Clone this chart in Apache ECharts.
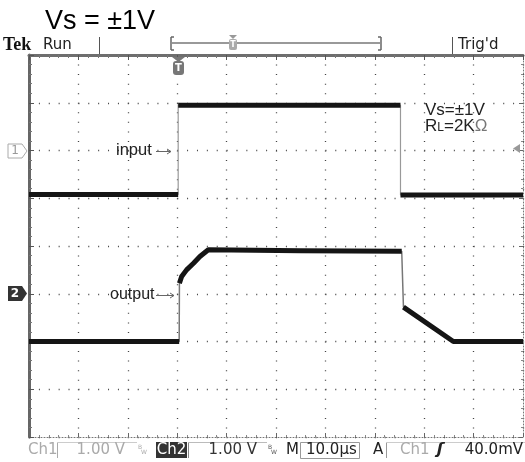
<!DOCTYPE html>
<html><head><meta charset="utf-8">
<script src="https://cdn.jsdelivr.net/npm/echarts@6/dist/echarts.min.js"></script>
<style>html,body{margin:0;padding:0;background:#fff}#c{width:525px;height:462px}</style>
</head><body><div id="c"></div>
<script>
// ---- data (time in µs, voltage in V) ----
const inTime  = [0, 30.2, 30.2, 75.2, 75.2, 100];
const inVolts = [-0.92, -0.92, 0.95, 0.95, -0.93, -0.93];
const outTime  = [0, 30.4, 30.45, 30.9, 31.9, 33.3, 34.6, 36.3, 55, 75.45, 75.8, 85.9, 100];
const outVolts = [-1.0, -1.0, 0.22, 0.36, 0.50, 0.64, 0.78, 0.92, 0.90, 0.89, -0.28, -1.0, -1.0];
const ch1VoltsPerDiv = 1.0, ch2VoltsPerDiv = 1.0;
const ch1OffsetDiv = 2, ch2OffsetDiv = -1;
const timeTicks = [0, 10, 20, 30, 40, 50, 60, 70, 80, 90, 100];
const divTicks = [-4, -3, -2, -1, 0, 1, 2, 3, 4];

function toScreen(times, volts, vpd, off) { return times.map((t, i) => [t, volts[i] / vpd + off]); }
function thickParts(pts) {
  const out = [];
  for (let i = 0; i < pts.length; i++) {
    if (i > 0) {
      const dx = pts[i][0] - pts[i-1][0];
      const dy = Math.abs(pts[i][1] - pts[i-1][1]);
      if (dx <= 0 || dy / dx > 1) out.push([pts[i][0], null]);
    }
    out.push(pts[i]);
  }
  return out;
}
const inPts = toScreen(inTime, inVolts, ch1VoltsPerDiv, ch1OffsetDiv);
const outPts = toScreen(outTime, outVolts, ch2VoltsPerDiv, ch2OffsetDiv);

const chart = echarts.init(document.getElementById('c'), null, {renderer: 'canvas'});
const SANS = '"Liberation Sans", Arial, sans-serif';
const TEK = '"DejaVu Sans", sans-serif';
function txt(x, y, text, font, fill, align, valign, extra) {
  return Object.assign({type: 'text', x: x, y: y, z: 100,
    style: Object.assign({text: text, font: font, fill: fill,
      align: align || 'left', textAlign: align || 'left',
      verticalAlign: valign || 'middle', textVerticalAlign: valign || 'middle'}, extra || {})});
}
function ln(x1, y1, x2, y2, color, w) {
  return {type: 'line', z: 100, shape: {x1, y1, x2, y2}, style: {stroke: color, lineWidth: w || 1}};
}
function arrow(x1, x2, y) {
  return [ln(x1, y, x2, y, '#666', 1),
    {type: 'polyline', z: 100, shape: {points: [[x2 - 4, y - 2.5], [x2, y], [x2 - 4, y + 2.5]]}, style: {stroke: '#666', lineWidth: 1, fill: null}}];
}
const graphics = [
  txt(45, 8, 'Vs = ±1V', '27px ' + SANS, '#000', 'left', 'top'),
  txt(3, 45, 'Tek', 'bold 18px "Liberation Serif", serif', '#111'),
  txt(43, 45, 'Run', '15px ' + TEK, '#222'),
  ln(99.5, 37, 99.5, 54, '#555', 1),
  ln(452.5, 37, 452.5, 54, '#555', 1),
  txt(458, 45, "Trig'd", '15px ' + TEK, '#222'),
  // trigger position bar
  ln(171, 37, 171, 50, '#666', 1.5), ln(171, 50, 174, 50, '#666', 1.5), ln(171, 37, 174, 37, '#666', 1.5),
  ln(172, 43, 380, 43, '#999', 2),
  ln(381, 37, 381, 50, '#666', 1.5), ln(378, 50, 381, 50, '#666', 1.5), ln(378, 37, 381, 37, '#666', 1.5),
  {type: 'polygon', z: 100, shape: {points: [[229, 35], [237, 35], [233, 39]]}, style: {fill: '#999'}},
  {type: 'rect', z: 100, shape: {x: 229, y: 39, width: 8, height: 11, r: 2}, style: {fill: '#aaa'}},
  txt(233, 44.5, 'T', 'bold 8px ' + TEK, '#fff', 'center'),
  // trigger marker under top border
  {type: 'polygon', z: 100, shape: {points: [[172, 57], [185, 57], [178.5, 62]]}, style: {fill: '#777'}},
  {type: 'rect', z: 100, shape: {x: 173, y: 61, width: 11, height: 14, r: 3}, style: {fill: '#777'}},
  txt(178.5, 68, 'T', 'bold 10px ' + TEK, '#fff', 'center'),
  // channel markers
  {type: 'polygon', z: 100, shape: {points: [[8, 144], [22, 144], [27, 151], [22, 158], [8, 158]]}, style: {fill: '#fff', stroke: '#aaa', lineWidth: 1}},
  txt(15, 151, '1', '12px ' + TEK, '#999', 'center'),
  {type: 'polygon', z: 100, shape: {points: [[8, 286], [22, 286], [27, 293.5], [22, 301], [8, 301]]}, style: {fill: '#333'}},
  txt(15, 293.5, '2', 'bold 12px ' + TEK, '#fff', 'center'),
  {type: 'polygon', z: 100, shape: {points: [[513, 148.5], [520, 144], [520, 153]]}, style: {fill: '#999'}},
  // annotations
  txt(116, 150.5, 'input', '16.5px ' + SANS, '#222'),
  ...arrow(156, 171, 151.5),
  txt(110, 294.5, 'output', '16px ' + SANS, '#222'),
  ...arrow(156, 174, 295.5),
  txt(425, 110.5, 'Vs=±1V', '17px ' + SANS, '#222'),
  txt(425, 126, '{a|R}{b|L}{a|=2K}{c|Ω}', '17px ' + SANS, '#222', 'left', 'middle', {rich: {a: {font: '17px ' + SANS, fill: '#222'}, b: {font: '12px ' + SANS, fill: '#222', padding: [4, 0, 0, 0]}, c: {font: '17px ' + SANS, fill: '#777'}}}),
  // status bar
  txt(28, 450, 'Ch1', '15px ' + TEK, '#aaa'),
  ln(57.5, 442, 57.5, 458, '#aaa', 1), ln(57, 442.5, 137, 442.5, '#ccc', 1),
  txt(125, 450, '1.00 V', '15px ' + TEK, '#aaa', 'right'),
  txt(138, 447, 'B', '6px ' + TEK, '#aaa'), txt(141, 452, 'W', '6px ' + TEK, '#aaa'),
  {type: 'rect', z: 100, shape: {x: 156, y: 442, width: 31, height: 16}, style: {fill: '#333'}},
  txt(171.5, 450, 'Ch2', '15px ' + TEK, '#fff', 'center'),
  ln(188.5, 442, 188.5, 458, '#888', 1), ln(188, 442.5, 267, 442.5, '#bbb', 1),
  txt(257, 450, '1.00 V', '15px ' + TEK, '#333', 'right'),
  txt(268, 447, 'B', '6px ' + TEK, '#555'), txt(271, 452, 'W', '6px ' + TEK, '#555'),
  txt(286, 450, 'M', '15px ' + TEK, '#222'),
  {type: 'rect', z: 100, shape: {x: 300.5, y: 442.5, width: 59, height: 16}, style: {fill: 'none', stroke: '#999', lineWidth: 1}},
  txt(306, 450, '10.0µs', '15px ' + TEK, '#222'),
  txt(373, 450, 'A', '15px ' + TEK, '#222'),
  ln(386.5, 442, 386.5, 458, '#999', 1), ln(386, 442.5, 525, 442.5, '#ccc', 1),
  txt(400, 450, 'Ch1', '15px ' + TEK, '#aaa'),
  txt(440, 450, 'ʃ', 'bold italic 16px ' + TEK, '#222', 'center'),
  txt(523, 450, '40.0mV', '15px ' + TEK, '#222', 'right')
];

const dotV = [1, 8.55];   // period 9.55 px = 0.2 div vertically
const dotH = [1, 8.88];   // period 9.88 px = 0.2 div horizontally
const hidden = {show: false};
const option = {
  animation: false,
  backgroundColor: '#fff',
  grid: {left: 29, top: 55, width: 494, height: 382, containLabel: false},
  xAxis: [
    {type: 'value', min: timeTicks[0], max: timeTicks[timeTicks.length - 1], interval: timeTicks[1] - timeTicks[0], position: 'bottom',
     axisLine: {show: true, onZero: false, lineStyle: {color: '#777', width: 1, type: [1, 2]}},
     axisTick: {show: true, inside: true, length: 4, lineStyle: {color: '#666'}},
     minorTick: {show: true, splitNumber: 5, length: 2, lineStyle: {color: '#888'}},
     axisLabel: hidden,
     splitLine: {show: true, lineStyle: {color: '#444', width: 1.3, type: dotV}}},
    {type: 'value', min: timeTicks[0], max: timeTicks[timeTicks.length - 1], interval: timeTicks[1] - timeTicks[0], position: 'top',
     axisLine: {show: true, onZero: false, lineStyle: {color: '#6e6e6e', width: 3}},
     axisTick: {show: true, inside: true, length: 5, lineStyle: {color: '#555'}},
     minorTick: {show: true, splitNumber: 5, length: 3, lineStyle: {color: '#777'}},
     axisLabel: hidden, splitLine: hidden}
  ],
  yAxis: [
    {type: 'value', min: divTicks[0], max: divTicks[divTicks.length - 1], interval: 1, position: 'left',
     axisLine: {show: true, onZero: false, lineStyle: {color: '#666', width: 3}},
     axisTick: {show: true, inside: true, length: 5, lineStyle: {color: '#555'}},
     minorTick: {show: true, splitNumber: 5, length: 3, lineStyle: {color: '#777'}},
     axisLabel: hidden,
     splitLine: {show: true, lineStyle: {color: '#444', width: 1.3, type: dotH}}},
    {type: 'value', min: divTicks[0], max: divTicks[divTicks.length - 1], interval: 1, position: 'right',
     axisLine: {show: true, onZero: false, lineStyle: {color: '#777', width: 1, type: [1, 2]}},
     axisTick: {show: true, inside: true, length: 4, lineStyle: {color: '#666'}},
     minorTick: {show: true, splitNumber: 5, length: 2, lineStyle: {color: '#888'}},
     axisLabel: hidden, splitLine: hidden}
  ],
  series: [
    {name: 'input edges', type: 'line', xAxisIndex: 0, yAxisIndex: 0, data: inPts, symbol: 'none',
     lineStyle: {color: '#999', width: 1.2}, z: 3, silent: true},
    {name: 'output edges', type: 'line', xAxisIndex: 0, yAxisIndex: 0, data: outPts, symbol: 'none',
     lineStyle: {color: '#777', width: 1.5}, z: 3, silent: true},
    {name: 'input', type: 'line', xAxisIndex: 0, yAxisIndex: 0, data: thickParts(inPts), symbol: 'none', connectNulls: false,
     lineStyle: {color: '#151515', width: 5, cap: 'butt', join: 'round'}, z: 4, silent: true},
    {name: 'output', type: 'line', xAxisIndex: 0, yAxisIndex: 0, data: thickParts(outPts), symbol: 'none', connectNulls: false,
     lineStyle: {color: '#151515', width: 5, cap: 'butt', join: 'round'}, z: 4, silent: true}
  ],
  graphic: graphics
};
chart.setOption(option);
</script>
</body></html>
